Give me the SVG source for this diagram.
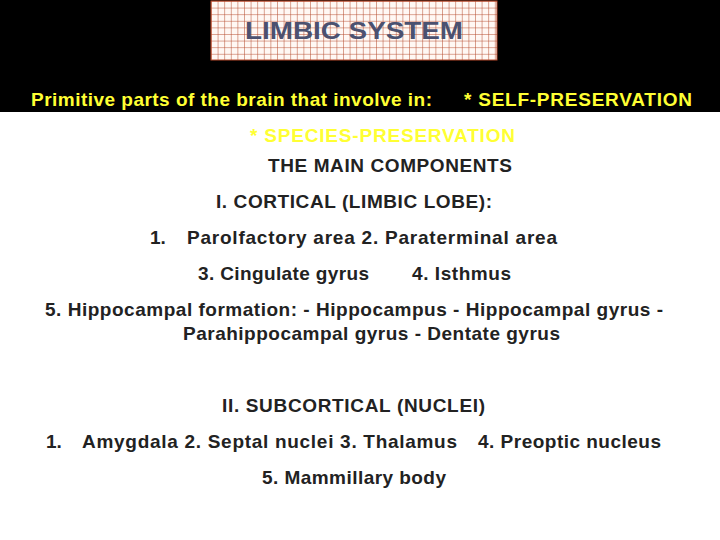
<svg xmlns="http://www.w3.org/2000/svg" width="720" height="540" viewBox="0 0 720 540">
<defs>
<pattern id="grid" x="211" y="1" width="6.6" height="6.6" patternUnits="userSpaceOnUse">
<rect width="6.6" height="6.6" fill="#fff8f4"/>
<path d="M0 0H6.6M0 0V6.6" stroke="#b5482a" stroke-width="1"/>
</pattern>
</defs>
<style>
text{font-family:"Liberation Sans",Arial,sans-serif;font-weight:bold;font-size:19px;fill:#222}
.y{fill:#ffff33}
</style>
<rect width="720" height="540" fill="#fff"/>
<rect width="720" height="112" fill="#000"/>
<g id="title">
<rect x="211" y="1" width="286" height="59" fill="url(#grid)" stroke="#b5482a"/>
<text x="245" y="39" textLength="218" lengthAdjust="spacingAndGlyphs" style="font-size:24px;fill:#4b5170">LIMBIC SYSTEM</text>
</g>
<text class="y" x="31" y="106" textLength="401">Primitive parts of the brain that involve in:</text>
<text class="y" x="464" y="106" textLength="228">* SELF-PRESERVATION</text>
<text class="y" x="250" y="142" textLength="265">* SPECIES-PRESERVATION</text>
<text x="268" y="172" textLength="244">THE MAIN COMPONENTS</text>
<text x="216" y="208" textLength="276">I. CORTICAL (LIMBIC LOBE):</text>
<text x="150" y="244">1.</text>
<text x="187" y="244" textLength="370">Parolfactory area   2. Paraterminal area</text>
<text x="198" y="280" textLength="171">3. Cingulate gyrus</text>
<text x="412" y="280" textLength="99">4. Isthmus</text>
<text x="45" y="316" textLength="618">5. Hippocampal formation: - Hippocampus - Hippocampal gyrus -</text>
<text x="183" y="340" textLength="377">Parahippocampal gyrus - Dentate gyrus</text>
<text x="222" y="412" textLength="263">II. SUBCORTICAL (NUCLEI)</text>
<text x="46" y="448">1.</text>
<text x="82" y="448" textLength="375">Amygdala  2. Septal nuclei 3. Thalamus</text>
<text x="478" y="448" textLength="183">4. Preoptic nucleus</text>
<text x="262" y="484" textLength="184">5. Mammillary body</text>
</svg>
